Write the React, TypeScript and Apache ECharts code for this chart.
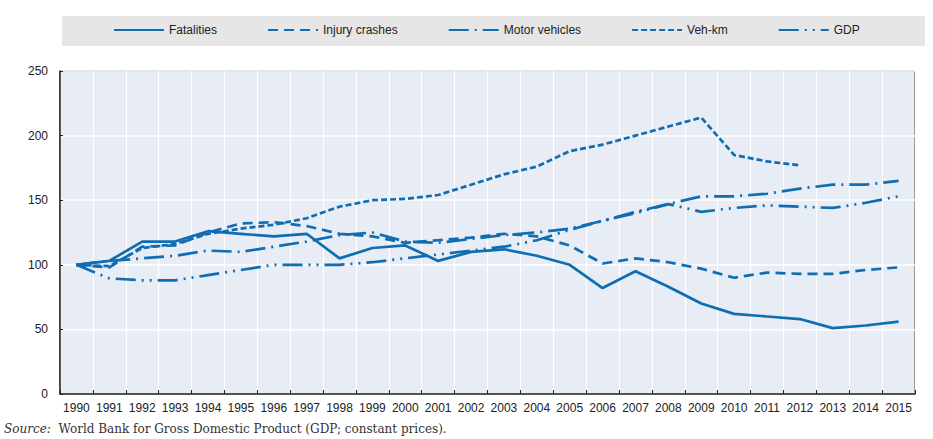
import React, { useEffect, useRef } from "react";
import * as echarts from "echarts";

const years = ["1990","1991","1992","1993","1994","1995","1996","1997","1998","1999","2000","2001","2002","2003","2004","2005","2006","2007","2008","2009","2010","2011","2012","2013","2014","2015"];
const fatalities = [100, 103, 118, 118, 126, 124, 122, 124, 105, 113, 115, 103, 110, 112, 107, 100, 82, 95, 83, 70, 62, 60, 58, 51, 53, 56];
const injuryCrashes = [100, 98, 114, 115, 125, 132, 133, 130, 124, 122, 117, 119, 121, 124, 122, 115, 101, 105, 102, 97, 90, 94, 93, 93, 96, 98];
const motorVehicles = [100, 103, 105, 107, 111, 110, 114, 118, 123, 125, 118, 117, 120, 123, 125, 128, 134, 141, 147, 153, 153, 155, 159, 162, 162, 165];
const vehKm = [100, 99, 113, 116, 124, 128, 131, 136, 145, 150, 151, 154, 162, 170, 176, 188, 193, 200, 207, 214, 185, 180, 177, null, null, null];
const gdp = [100, 89.5, 88, 88, 92, 96, 100, 100, 100, 102, 105, 108, 111, 114, 119, 127, 134, 140, 147, 141, 144, 146, 145, 144, 148, 153];
const yTicks = { min: 0, max: 250, interval: 50 };

const BLUE = "#0f6db3";
const FONT = "'Liberation Sans', Arial, sans-serif";

export default function App() {
  const ref = useRef<HTMLDivElement>(null);
  useEffect(() => {
    if (!ref.current) return;
    const chart = echarts.init(ref.current, undefined, { renderer: "svg" });
    const mk = (name: string, data: (number | null)[], type: any) => ({
      name,
      type: "line",
      data,
      symbol: "none",
      connectNulls: false,
      lineStyle: { color: BLUE, width: 2.7, type, cap: "butt" },
      itemStyle: { color: BLUE },
    });
    chart.setOption({
      animation: false,
      textStyle: { fontFamily: FONT },
      graphic: [
        {
          type: "rect",
          left: 62,
          top: 16,
          shape: { width: 863, height: 30 },
          style: { fill: "#e6e6e6" },
          z: -10,
        },
        {
          type: "text",
          left: 4,
          top: 423,
          style: {
            text: "{i|Source:}  World Bank for Gross Domestic Product (GDP; constant prices).",
            font: "12px 'DejaVu Serif', serif",
            fill: "#333",
            rich: {
              i: { fontStyle: "italic", fontFamily: "'DejaVu Serif', serif", fontSize: 12, fill: "#333" },
            },
          },
        },
      ],
      legend: {
        left: 113,
        top: 24,
        padding: 0,
        itemWidth: 50,
        itemHeight: 14,
        itemGap: 50,
        itemStyle: { opacity: 0, borderWidth: 0 },
        textStyle: { fontSize: 12, color: "#222", fontFamily: FONT },
        data: ["Fatalities", "Injury crashes", "Motor vehicles", "Veh-km", "GDP"],
      },
      grid: {
        left: 60,
        right: 18,
        top: 71,
        bottom: 45,
        show: true,
        backgroundColor: "#e8ecf4",
        borderColor: "#333",
        borderWidth: 1,
      },
      xAxis: {
        type: "category",
        data: years,
        boundaryGap: true,
        axisLine: { lineStyle: { color: "#222", width: 1.5 } },
        axisTick: { show: true, inside: true, length: 4, lineStyle: { color: "#222" } },
        axisLabel: { interval: 0, fontSize: 12, color: "#222", margin: 8, fontFamily: FONT },
        splitLine: { show: true, interval: 0, lineStyle: { color: "#ffffff", width: 1.2 } },
      },
      yAxis: {
        type: "value",
        min: yTicks.min,
        max: yTicks.max,
        interval: yTicks.interval,
        axisLine: { show: true, lineStyle: { color: "#222", width: 1.5 } },
        axisTick: { show: true, inside: true, length: 3, lineStyle: { color: "#222" } },
        axisLabel: { fontSize: 12, color: "#222", margin: 12, fontFamily: FONT },
        splitLine: { show: true, lineStyle: { color: "#ffffff", width: 1.5 } },
      },
      series: [
        mk("Fatalities", fatalities, "solid"),
        mk("Injury crashes", injuryCrashes, [10, 6]),
        mk("Motor vehicles", motorVehicles, [20, 6, 2, 6]),
        mk("Veh-km", vehKm, [6, 3]),
        mk("GDP", gdp, [20, 6, 2, 6, 2, 6]),
      ],
    });
    return () => chart.dispose();
  }, []);
  return (
    <div
      ref={ref}
      style={{ position: "absolute", left: 0, top: 0, width: 933, height: 439 }}
    />
  );
}
